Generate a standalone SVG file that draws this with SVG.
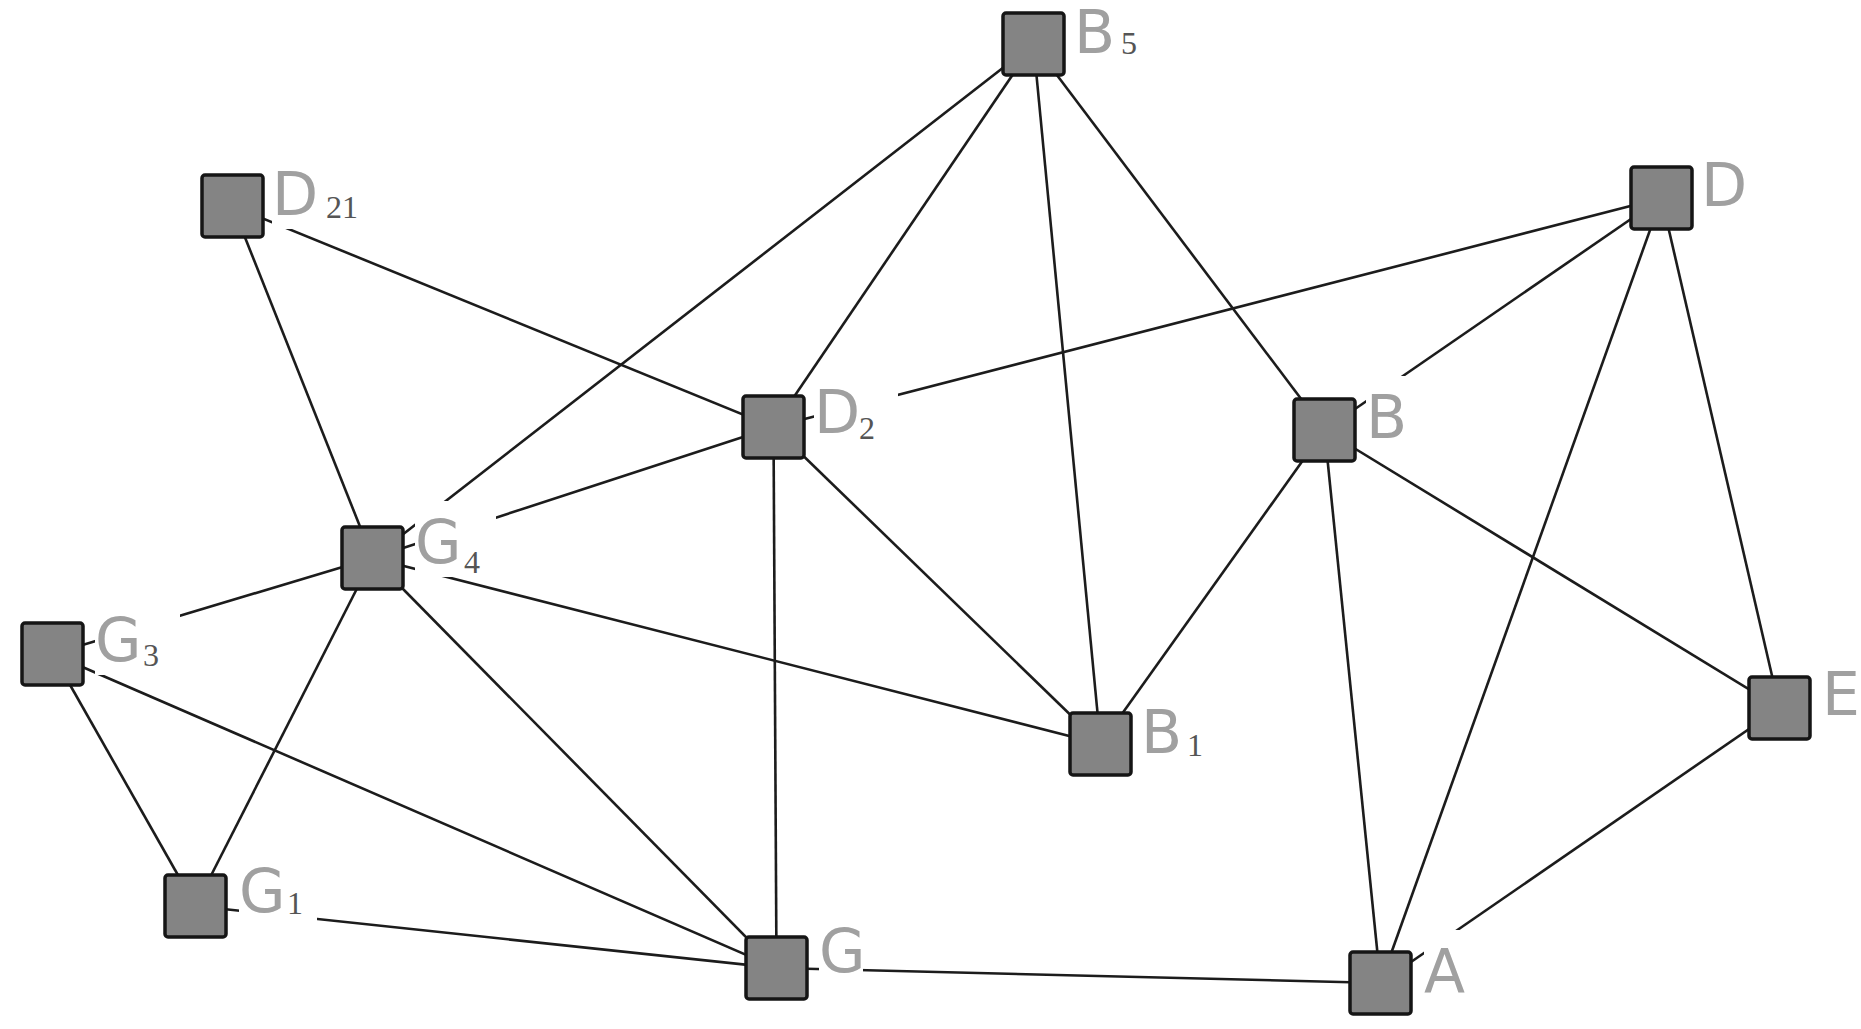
<svg xmlns="http://www.w3.org/2000/svg" width="1861" height="1029" viewBox="0 0 1861 1029">
<style>
.edge{stroke:#1c1c1c;stroke-width:2.6;fill:none}
.box{fill:#848484;stroke:#151515;stroke-width:3.5}
.bg{fill:#ffffff}
.lbl{font-family:"DejaVu Sans","Liberation Sans",sans-serif;font-size:60px;fill:#a0a0a0}
.sub{font-family:"Liberation Serif","DejaVu Serif",serif;font-size:32px;fill:#555555}
</style>
<rect x="0" y="0" width="1861" height="1029" fill="#ffffff"/>
<g id="connectors">
<line class="edge" x1="1033.5" y1="44" x2="372.5" y2="558"/>
<line class="edge" x1="1033.5" y1="44" x2="773.5" y2="427"/>
<line class="edge" x1="1033.5" y1="44" x2="1100.5" y2="744"/>
<line class="edge" x1="1033.5" y1="44" x2="1324.5" y2="430"/>
<line class="edge" x1="232.5" y1="206" x2="372.5" y2="558"/>
<line class="edge" x1="232.5" y1="206" x2="773.5" y2="427"/>
<line class="edge" x1="1661.5" y1="198" x2="773.5" y2="427"/>
<line class="edge" x1="1661.5" y1="198" x2="1324.5" y2="430"/>
<line class="edge" x1="1661.5" y1="198" x2="1380.5" y2="983"/>
<line class="edge" x1="1661.5" y1="198" x2="1779.5" y2="708"/>
<line class="edge" x1="773.5" y1="427" x2="372.5" y2="558"/>
<line class="edge" x1="773.5" y1="427" x2="776.5" y2="968"/>
<line class="edge" x1="773.5" y1="427" x2="1100.5" y2="744"/>
<line class="edge" x1="1324.5" y1="430" x2="1100.5" y2="744"/>
<line class="edge" x1="1324.5" y1="430" x2="1380.5" y2="983"/>
<line class="edge" x1="1324.5" y1="430" x2="1779.5" y2="708"/>
<line class="edge" x1="372.5" y1="558" x2="52.5" y2="654"/>
<line class="edge" x1="372.5" y1="558" x2="195.5" y2="906"/>
<line class="edge" x1="372.5" y1="558" x2="776.5" y2="968"/>
<line class="edge" x1="372.5" y1="558" x2="1100.5" y2="744"/>
<line class="edge" x1="52.5" y1="654" x2="195.5" y2="906"/>
<line class="edge" x1="52.5" y1="654" x2="776.5" y2="968"/>
<line class="edge" x1="195.5" y1="906" x2="776.5" y2="968"/>
<line class="edge" x1="776.5" y1="968" x2="1380.5" y2="983"/>
<line class="edge" x1="1779.5" y1="708" x2="1380.5" y2="983"/>
</g>
<g id="node-B5">
<rect class="box" x="1003" y="13" width="61" height="62" rx="3"/>
<rect class="bg" x="1074" y="0" width="81" height="67"/>
<text class="lbl" x="1074" y="53">B</text>
<text class="sub" x="1121" y="54">5</text>
</g>
<g id="node-D21">
<rect class="box" x="202" y="175" width="61" height="62" rx="3"/>
<rect class="bg" x="272" y="153" width="106" height="76"/>
<text class="lbl" x="272" y="215">D</text>
<text class="sub" x="326" y="218">21</text>
</g>
<g id="node-D">
<rect class="box" x="1631" y="167" width="61" height="62" rx="3"/>
<rect class="bg" x="1701" y="144" width="47" height="76"/>
<text class="lbl" x="1701" y="206">D</text>
</g>
<g id="node-D2">
<rect class="box" x="743" y="396" width="61" height="62" rx="3"/>
<rect class="bg" x="814" y="371" width="84" height="76"/>
<text class="lbl" x="814" y="433">D</text>
<text class="sub" x="859" y="439">2</text>
</g>
<g id="node-B">
<rect class="box" x="1294" y="399" width="61" height="62" rx="3"/>
<rect class="bg" x="1366" y="376" width="42" height="76"/>
<text class="lbl" x="1366" y="438">B</text>
</g>
<g id="node-G4">
<rect class="box" x="342" y="527" width="61" height="62" rx="3"/>
<rect class="bg" x="415" y="501" width="81" height="76"/>
<text class="lbl" x="415" y="563">G</text>
<text class="sub" x="464" y="573">4</text>
</g>
<g id="node-G3">
<rect class="box" x="22" y="623" width="61" height="62" rx="3"/>
<rect class="bg" x="95" y="599" width="85" height="76"/>
<text class="lbl" x="95" y="661">G</text>
<text class="sub" x="143" y="666">3</text>
</g>
<g id="node-B1">
<rect class="box" x="1070" y="713" width="61" height="62" rx="3"/>
<rect class="bg" x="1141" y="691" width="79" height="76"/>
<text class="lbl" x="1141" y="753">B</text>
<text class="sub" x="1187" y="756">1</text>
</g>
<g id="node-E">
<rect class="box" x="1749" y="677" width="61" height="62" rx="3"/>
<rect class="bg" x="1822" y="653" width="39" height="76"/>
<text class="lbl" x="1822" y="715">E</text>
</g>
<g id="node-G1">
<rect class="box" x="165" y="875" width="61" height="62" rx="3"/>
<rect class="bg" x="239" y="850" width="78" height="76"/>
<text class="lbl" x="239" y="912">G</text>
<text class="sub" x="287" y="914">1</text>
</g>
<g id="node-G">
<rect class="box" x="746" y="937" width="61" height="62" rx="3"/>
<rect class="bg" x="819" y="910" width="44" height="76"/>
<text class="lbl" x="819" y="972">G</text>
</g>
<g id="node-A">
<rect class="box" x="1350" y="952" width="61" height="62" rx="3"/>
<rect class="bg" x="1424" y="930" width="42" height="76"/>
<text class="lbl" x="1424" y="992">A</text>
</g>
</svg>
